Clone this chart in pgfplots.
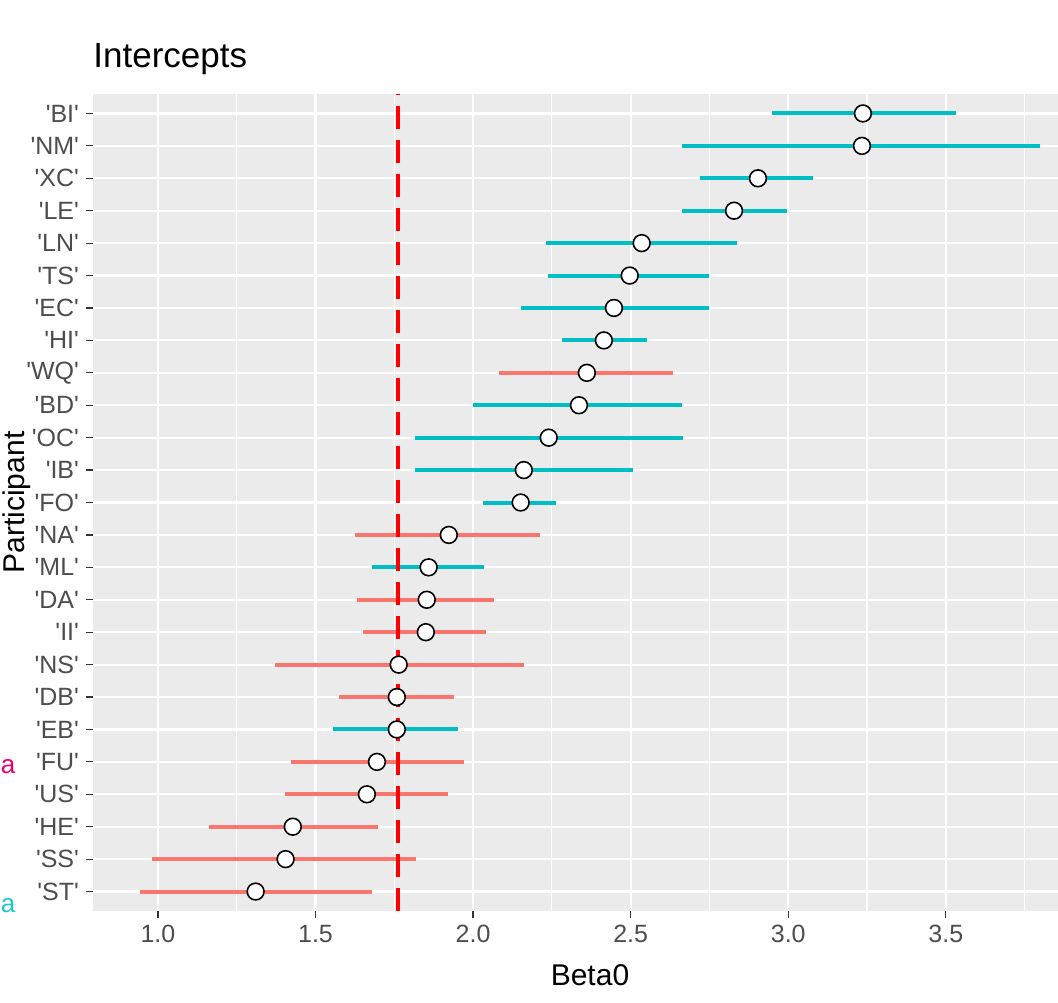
\documentclass[border=0pt]{standalone}
\usepackage{fontspec}
\setmainfont{Liberation Sans}
\usepackage{pgfplots}
\pgfplotsset{compat=1.18}
\usepackage{pgfplotstable}
\usetikzlibrary{calc}
\definecolor{salmon}{HTML}{F8766D}
\definecolor{cyanish}{HTML}{00BFC4}
\definecolor{panel}{HTML}{EBEBEB}
\definecolor{tickgray}{HTML}{4D4D4D}
\definecolor{tickmark}{HTML}{333333}
\definecolor{magleg}{HTML}{E6007E}
\definecolor{cyanleg}{HTML}{1CC7D0}
\newcommand{\q}[1]{\textquotesingle#1\textquotesingle}

\pgfplotstableread{
pos est lo hi
16 2.361 2.082 2.634
11 1.923 1.624 2.212
9 1.853 1.631 2.066
8 1.850 1.650 2.040
7 1.764 1.370 2.161
6 1.758 1.574 1.939
4 1.695 1.421 1.971
3 1.663 1.402 1.920
2 1.428 1.161 1.698
1 1.405 0.980 1.818
0 1.310 0.942 1.678
}\salmontab

\pgfplotstableread{
pos est lo hi
24 3.237 2.948 3.532
23 3.234 2.662 3.799
22 2.904 2.720 3.078
21 2.828 2.662 2.996
20 2.535 2.231 2.837
19 2.497 2.237 2.748
18 2.447 2.151 2.748
17 2.415 2.282 2.552
15 2.336 1.999 2.662
14 2.240 1.815 2.666
13 2.161 1.815 2.507
12 2.151 2.031 2.263
10 1.859 1.678 2.034
5 1.758 1.555 1.951
}\cyantab

\begin{document}
\begin{tikzpicture}
\begin{axis}[
  scale only axis, width=482.5pt, height=408.5pt,
  xmin=0.794, xmax=3.856, ymin=-0.6, ymax=24.6,
  axis background/.style={fill=panel},
  axis line style={draw=none},
  xtick={1,1.5,2,2.5,3,3.5}, xticklabels={1.0,1.5,2.0,2.5,3.0,3.5},
  minor xtick={1.25,1.75,2.25,2.75,3.25,3.75},
  ytick={0,...,24},
  yticklabels={\q{ST},\q{SS},\q{HE},\q{US},\q{FU},\q{EB},\q{DB},\q{NS},\q{II},\q{DA},\q{ML},\q{NA},\q{FO},\q{IB},\q{OC},\q{BD},\q{WQ},\q{HI},\q{EC},\q{TS},\q{LN},\q{LE},\q{XC},\q{NM},\q{BI}},
  xmajorgrids, ymajorgrids, xminorgrids,
  major grid style={white, line width=1.1pt},
  minor grid style={white, line width=0.55pt},
  tick align=outside, major tick length=3.5pt, minor tick length=0pt,
  xtick pos=left, ytick pos=left,
  tick style={tickmark, line width=0.6pt},
  ticklabel style={font=\fontsize{12.5}{14}\selectfont, text=tickgray},
]
\addplot[draw=none, forget plot, error bars/.cd, x dir=both, x explicit, error mark=none,
  error bar style={draw=salmon, line width=2pt}]
  table[x=est, y=pos, x error plus expr=\thisrow{hi}-\thisrow{est}, x error minus expr=\thisrow{est}-\thisrow{lo}] {\salmontab};
\addplot[draw=none, forget plot, error bars/.cd, x dir=both, x explicit, error mark=none,
  error bar style={draw=cyanish, line width=2pt}]
  table[x=est, y=pos, x error plus expr=\thisrow{hi}-\thisrow{est}, x error minus expr=\thisrow{est}-\thisrow{lo}] {\cyantab};
\addplot[red, line width=2pt, dash pattern=on 11.5pt off 5.5pt] coordinates {(1.761,-0.6) (1.761,24.6)};
\addplot[only marks, mark=*, mark size=4.2pt, mark options={fill=white, draw=black, line width=0.8pt}]
  table[x=est, y=pos] {\salmontab};
\addplot[only marks, mark=*, mark size=4.2pt, mark options={fill=white, draw=black, line width=0.8pt}]
  table[x=est, y=pos] {\cyantab};
\end{axis}
\node[anchor=base west, inner sep=0pt, font=\fontsize{17.5}{20}\selectfont] at ($(current axis.north west)+(0,13pt)$) {Intercepts};
\node[anchor=base, inner sep=0pt, font=\fontsize{15}{18}\selectfont] at ($(current axis.south west)+(248.5pt,-37pt)$) {Beta0};
\node[rotate=90, anchor=north, inner sep=0pt, font=\fontsize{15}{18}\selectfont] at ($(current axis.west)+(-45.5pt,0)$) {Participant};
\node[anchor=west, inner sep=0pt, text=magleg, font=\fontsize{13}{15}\selectfont] at ($(current axis.north west)+(-46.3pt,-336.5pt)$) {a};
\node[anchor=west, inner sep=0pt, text=cyanleg, font=\fontsize{13}{15}\selectfont] at ($(current axis.north west)+(-46.3pt,-406pt)$) {a};
\pgfresetboundingbox
\path[use as bounding box] ($(current axis.south west)+(-46.5pt,-45.5pt)$) rectangle ($(current axis.north east)+(0,47pt)$);
\end{tikzpicture}
\end{document}
